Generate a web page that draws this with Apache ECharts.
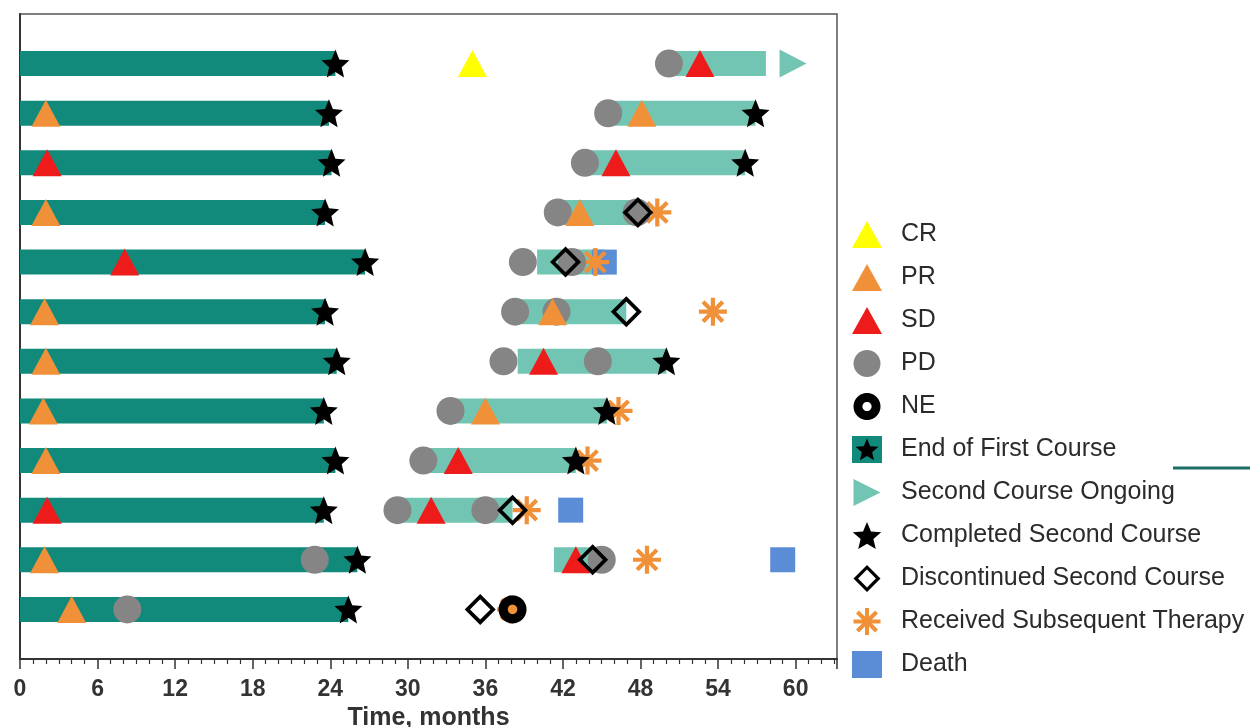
<!DOCTYPE html>
<html>
<head>
<meta charset="utf-8">
<script src="https://cdn.jsdelivr.net/npm/echarts@6/dist/echarts.min.js"></script>
<style>
html,body{margin:0;padding:0;background:#fff;}
#chart{width:1250px;height:727px;}
</style>
</head>
<body>
<div id="chart"></div>
<script>
// ---- Data (months; rows 1..12 top to bottom) ----
const rows = [1,2,3,4,5,6,7,8,9,10,11,12];
const firstEnd = [24.4, 23.9, 24.1, 23.6, 26.7, 23.6, 24.5, 23.5, 24.4, 23.5, 26.1, 25.4];
const secondStart = [50.5, 46.0, 44.0, 42.0, 40.0, 38.8, 38.5, 33.5, 31.5, 29.5, 41.3, null];
const secondEnd   = [57.7, 56.9, 56.1, 47.8, 45.2, 46.9, 50.0, 45.4, 43.0, 38.1, 44.3, null];

const crPts = [[35.0,1]];
const prPts = [[2.0,2],[48.1,2],[2.0,4],[43.3,4],[1.9,6],[41.2,6],[2.0,7],[1.8,8],[36.0,8],[2.0,9],[1.9,11],[4.0,12]];
const sdPts = [[52.6,1],[2.1,3],[46.1,3],[8.1,5],[40.5,7],[33.9,9],[2.1,10],[31.8,10],[43.0,11]];
const pdPts = [[50.2,1],[45.5,2],[43.7,3],[41.6,4],[47.7,4],[38.9,5],[42.7,5],[38.3,6],[41.5,6],[37.4,7],[44.7,7],[33.3,8],[31.2,9],[29.2,10],[36.0,10],[22.8,11],[45.0,11],[8.3,12]];
const nePts = [[38.1,12]];
const ongoingPts = [[59.8,1]];
const completedPts = [[56.9,2],[56.1,3],[50.0,7],[45.4,8],[43.0,9]];
const discontinuedPts = [[47.8,4],[42.2,5],[46.9,6],[38.1,10],[44.3,11],[35.6,12]];
const subsequentPts = [[49.3,4],[44.5,5],[53.6,6],[46.3,8],[43.9,9],[39.2,10],[48.5,11],[38.0,12]];
const deathPts = [[45.2,5],[42.6,10],[59.0,11]];

const xTicks = [0,6,12,18,24,30,36,42,48,54,60];

// ---- Styles ----
const C = {
  dark:'#11897b', light:'#72c5b2', yellow:'#ffff00', orange:'#f0913a', red:'#ee1b1b',
  gray:'#858585', blue:'#5b8dd6', black:'#000000'
};

function fmt(p){ return p[0].toFixed(3)+','+p[1].toFixed(3); }
function starPath(){
  const pts=[];
  for(let k=0;k<10;k++){
    const r = k%2 ? 0.45 : 1;
    const a = -Math.PI/2 + k*Math.PI/5;
    pts.push([r*Math.cos(a), r*Math.sin(a)]);
  }
  return 'path://M' + pts.map(fmt).join('L') + 'Z';
}
function asteriskPath(){
  let d='';
  const w=0.15;
  for(let k=0;k<4;k++){
    const a = k*Math.PI/4, c=Math.cos(a), s=Math.sin(a);
    const pts=[[-1,-w],[1,-w],[1,w],[-1,w]].map(p=>[p[0]*c-p[1]*s, p[0]*s+p[1]*c]);
    d += 'M'+pts.map(fmt).join('L')+'Z';
  }
  return 'path://' + d;
}
function ringPath(inner){
  const n=48, outer=[], inn=[];
  for(let k=0;k<n;k++){
    const a = k*2*Math.PI/n;
    outer.push([Math.cos(a), Math.sin(a)]);
    inn.push([inner*Math.cos(-a), inner*Math.sin(-a)]);
  }
  return 'path://M'+outer.map(fmt).join('L')+'ZM'+inn.map(fmt).join('L')+'Z';
}
function diamondOutline(inner){
  const o=[[0,-1],[1,0],[0,1],[-1,0]];
  const i=[[0,-inner],[-inner,0],[0,inner],[inner,0]];
  return 'path://M'+o.map(fmt).join('L')+'ZM'+i.map(fmt).join('L')+'Z';
}
const STAR = starPath();
const AST = asteriskPath();
const RTRI = 'path://M0,0L1,0.5L0,1Z';
const RING = ringPath(0.34);
const DIAM = diamondOutline(0.66);

const firstBars = rows.map((r,i)=>[0, firstEnd[i], r]);
const secondBars = rows.map((r,i)=>secondStart[i]==null?null:[secondStart[i], secondEnd[i], r]).filter(Boolean);
const firstEndPts = rows.map((r,i)=>[firstEnd[i], r]);

function barRender(color){
  return function(params, api){
    const s = api.coord([api.value(0), api.value(2)]);
    const e = api.coord([api.value(1), api.value(2)]);
    const h = 25;
    return {type:'rect', shape:{x:s[0], y:s[1]-h/2, width:e[0]-s[0], height:h}, style:{fill:color}};
  };
}

function scatter(name, data, symbol, size, color){
  return {type:'scatter', name, data, symbol, symbolSize:size, itemStyle:{color, opacity:1},
          emphasis:{disabled:true}, silent:true};
}

const chart = echarts.init(document.getElementById('chart'));
const FONT = 'Liberation Sans, Arial, sans-serif';
const legendText = {fontFamily:FONT, fontSize:25, color:'#2b2b2b', lineHeight:27, padding:[0,0,0,14]};

chart.setOption({
  animation:false,
  backgroundColor:'#ffffff',
  grid:{left:20, right:413, top:14, bottom:68, outerBoundsMode:'none', containLabel:false,
        show:true, borderColor:'#555', borderWidth:1.5, backgroundColor:'transparent'},
  xAxis:{
    type:'value', min:0, max:63.2, interval:6, position:'bottom',
    axisLine:{show:true, onZero:false, lineStyle:{color:'#333', width:2}},
    axisTick:{show:true, inside:false, length:10, lineStyle:{color:'#333', width:1.5}},
    minorTick:{show:true, splitNumber:6, length:5, lineStyle:{color:'#333', width:1.2}},
    splitLine:{show:false},
    axisLabel:{fontFamily:FONT, fontWeight:'bold', fontSize:23, color:'#333', margin:19, showMaxLabel:false,
      formatter: v => xTicks.indexOf(v) >= 0 ? String(v) : ''},
    name:'Time, months', nameLocation:'middle', nameGap:45,
    nameTextStyle:{fontFamily:FONT, fontWeight:'bold', fontSize:25, color:'#333'}
  },
  yAxis:{
    type:'value', min:0, max:13, inverse:true, position:'left',
    axisLine:{show:true, onZero:false, lineStyle:{color:'#333', width:2}},
    axisTick:{show:false}, axisLabel:{show:false}, splitLine:{show:false}
  },
  legend:{
    orient:'vertical', left:852, top:221, padding:0, itemWidth:30, itemHeight:27, itemGap:16,
    selectedMode:false, textStyle:legendText,
    data:[
      {name:'CR', icon:'triangle', itemStyle:{color:C.yellow, borderWidth:0}},
      {name:'PR', icon:'triangle', itemStyle:{color:C.orange, borderWidth:0}},
      {name:'SD', icon:'triangle', itemStyle:{color:C.red, borderWidth:0}},
      {name:'PD', icon:'circle', itemStyle:{color:C.gray, borderWidth:0}},
      {name:'NE', icon:RING, itemStyle:{color:'#000', borderWidth:0}},
      {name:'End of First Course', icon:'rect', itemStyle:{color:C.dark, borderWidth:0}},
      {name:'Second Course Ongoing', icon:RTRI, itemStyle:{color:C.light, borderWidth:0}},
      {name:'Completed Second Course', icon:STAR, itemStyle:{color:C.black, borderWidth:0}},
      {name:'Discontinued Second Course', icon:DIAM, itemStyle:{color:'#000', borderWidth:0}},
      {name:'Received Subsequent Therapy', icon:AST, itemStyle:{color:C.orange, borderWidth:0}},
      {name:'Death', icon:'rect', itemStyle:{color:C.blue, borderWidth:0}}
    ]
  },
  series:[
    {type:'custom', name:'End of First Course', data:firstBars, renderItem:barRender(C.dark), itemStyle:{color:C.dark}, silent:true},
    {type:'custom', name:'Second Course', data:secondBars, renderItem:barRender(C.light), itemStyle:{color:C.light}, silent:true},
    scatter('Death', deathPts, 'rect', 25, C.blue),
    scatter('Received Subsequent Therapy', subsequentPts, AST, 28, C.orange),
    scatter('PD', pdPts, 'circle', 28, C.gray),
    scatter('CR', crPts, 'triangle', [29,27], C.yellow),
    scatter('PR', prPts, 'triangle', [29,27], C.orange),
    scatter('SD', sdPts, 'triangle', [29,27], C.red),
    scatter('Second Course Ongoing', ongoingPts, RTRI, [27,28], C.light),
    scatter('End of First Course', firstEndPts, STAR, 28, C.black),
    scatter('Completed Second Course', completedPts, STAR, 28, C.black),
    scatter('Discontinued Second Course', discontinuedPts, DIAM, 31, '#000'),
    scatter('NE', nePts, RING, 28, '#000')
  ]
});

// decorations: black star on the "End of First Course" legend icon, stray line at right
(function(){
  const cx=867, cy=450.5, R=12, r=5.4, pts=[];
  for(let k=0;k<10;k++){
    const rr = k%2 ? r : R, a=-Math.PI/2 + k*Math.PI/5;
    pts.push([cx+rr*Math.cos(a), cy+rr*Math.sin(a)]);
  }
  chart.setOption({graphic:[
    {type:'line', shape:{x1:1173, y1:468, x2:1250, y2:468}, style:{stroke:'#1c6e66', lineWidth:3}, silent:true},
    {type:'polygon', shape:{points:pts}, style:{fill:'#000'}, z:100, silent:true}
  ]});
})();
</script>
</body>
</html>
